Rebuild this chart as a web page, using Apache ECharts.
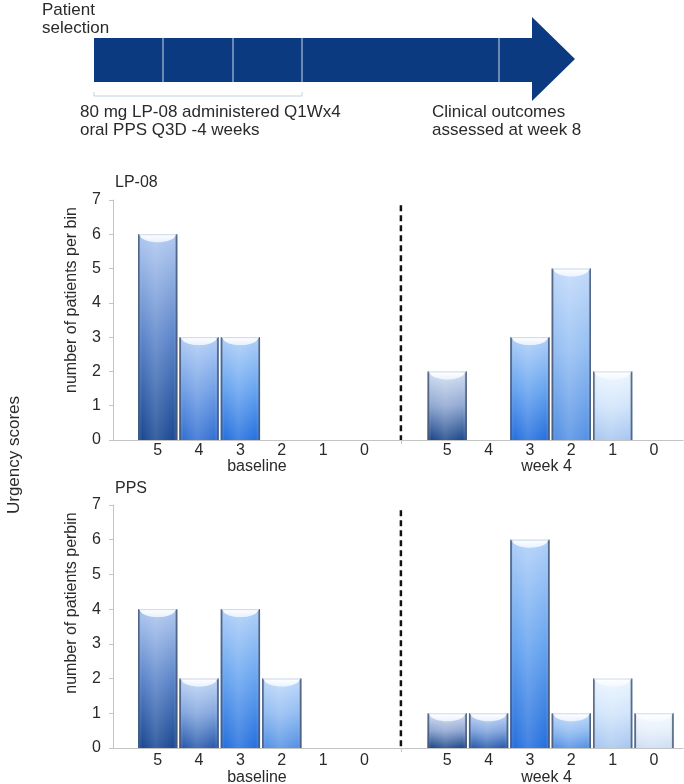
<!DOCTYPE html>
<html><head><meta charset="utf-8">
<script src="https://cdn.jsdelivr.net/npm/echarts@6/dist/echarts.min.js"></script>
<style>html,body{margin:0;padding:0;background:#fff}#c{width:684px;height:784px}</style>
</head><body><div id="c"></div>
<script>
// ---- data ----
const scores = ['5','4','3','2','1','0'];
const groupNames = ['baseline','week 4'];
const lp08Baseline = [6,3,3,0,0,0];
const lp08Week4 = [2,0,3,5,2,0];
const ppsBaseline = [4,2,4,2,0,0];
const ppsWeek4 = [1,1,6,1,2,1];
const yTicks = [0,1,2,3,4,5,6,7];
const panelTitles = ['LP-08','PPS'];
const yNames = ['number of patients per bin','number of patients perbin'];

// ---- styles (kept separate from data) ----
const shades = {
  dark:   ['#b0c9f0','#5d86cb','#1a4993'],
  slate:  ['#d4e0f3','#91a8d2','#1d488a'],
  mid:    ['#b4cff6','#74a1e6','#3370d2'],
  midDark:['#c4d8f6','#83a6de','#285aac'],
  bright: ['#b0d0f8','#68a5f0','#2670de'],
  light:  ['#c2dafa','#93bdf2','#5591e4'],
  pale:   ['#edf6ff','#d2e5fb','#a7c7f0'],
  palest: ['#f6faff','#e6f0fb','#cedef3']
};
const lp08BaselineShade = ['dark','mid','bright','light','light','light'];
const lp08Week4Shade = ['slate','mid','bright','light','pale','pale'];
const ppsBaselineShade = ['dark','midDark','bright','light','light','light'];
const ppsWeek4Shade = ['slate','midDark','bright','light','pale','palest'];

const FONT = 'Liberation Sans, Arial, sans-serif';
const TXT = '#2a2a2a';
const GAP = 7; // slot index where week-4 group starts
const labelPos = [];
scores.forEach((s,i)=>labelPos.push(i));
scores.forEach((s,i)=>labelPos.push(GAP+i));
function labelFor(v){
  const r = Math.round(v);
  if (r < 6) return scores[r];
  return scores[r-GAP];
}

function buildItems(base, week, baseShade, weekShade){
  const items = [];
  base.forEach((v,i)=>items.push({x:i, v:v, shade:baseShade[i]}));
  week.forEach((v,i)=>items.push({x:GAP+i, v:v, shade:weekShade[i]}));
  return items;
}
const panels = [
  buildItems(lp08Baseline, lp08Week4, lp08BaselineShade, lp08Week4Shade),
  buildItems(ppsBaseline, ppsWeek4, ppsBaselineShade, ppsWeek4Shade)
];

function makeRender(items){
  return function(params, api){
    const it = items[params.dataIndex];
    if (!it || it.v <= 0) return null;
    const p = api.coord([it.x, it.v]);
    const b = api.coord([it.x, 0]);
    const w = api.size([1,0])[0]*0.95;
    const x0 = p[0]-w/2, y0 = p[1], h = b[1]-p[1];
    const sh = shades[it.shade];
    const d = 8;
    const pts = [[x0, y0]];
    const N = 24;
    for (let i=0;i<=N;i++){
      const t = i/N;
      const xx = x0 + 1.5 + t*(w-3);
      const yy = y0 + d*Math.sqrt(Math.max(0,1-Math.pow(2*t-1,2)));
      pts.push([xx,yy]);
    }
    pts.push([x0+w, y0]);
    return {type:'group', children:[
      {type:'rect', shape:{x:x0,y:y0,width:w,height:h},
       style:{fill:{type:'linear',x:0,y:0,x2:0,y2:1,colorStops:[
         {offset:0,color:sh[0]},{offset:0.5,color:sh[1]},{offset:1,color:sh[2]}]}}},
      {type:'rect', shape:{x:x0,y:y0,width:w,height:h},
       style:{fill:{type:'linear',x:0,y:0,x2:1,y2:0,colorStops:[
         {offset:0,color:'rgba(30,50,90,0.35)'},{offset:0.1,color:'rgba(255,255,255,0)'},
         {offset:0.45,color:'rgba(255,255,255,0.14)'},{offset:0.9,color:'rgba(255,255,255,0)'},
         {offset:1,color:'rgba(30,50,90,0.35)'}]}}},
      {type:'line', shape:{x1:x0+0.8,y1:y0,x2:x0+0.8,y2:b[1]},
       style:{stroke:'rgba(70,90,125,0.85)',lineWidth:1.6}},
      {type:'line', shape:{x1:x0+w-0.8,y1:y0,x2:x0+w-0.8,y2:b[1]},
       style:{stroke:'rgba(70,90,125,0.85)',lineWidth:1.6}},
      {type:'polygon', shape:{points:pts},
       style:{fill:{type:'linear',x:0,y:0,x2:0,y2:1,colorStops:[
         {offset:0,color:'rgba(255,255,255,1)'},{offset:1,color:'rgba(246,250,255,0.8)'}]}}},
      {type:'line', shape:{x1:x0+1,y1:y0+0.5,x2:x0+w-1,y2:y0+0.5},
       style:{stroke:'rgba(205,218,236,1)',lineWidth:1}}
    ]};
  };
}

const grids = [
  {left:113, top:200, width:570, height:240, outerBoundsMode:'none', containLabel:false},
  {left:113, top:505, width:570, height:243, outerBoundsMode:'none', containLabel:false}
];
const XMIN = -1.08, XMAX = 12.7;
const sepTop = 6.85;
const sepX = 5.88;

const xAxes = [], yAxes = [], series = [];
grids.forEach((g,gi)=>{
  xAxes.push({type:'value', gridIndex:gi, min:XMIN, max:XMAX,
    axisLine:{show:true, onZero:false, lineStyle:{color:'#c4c4c4', width:1}},
    axisTick:{show:true, customValues:[sepX], length:4, lineStyle:{color:'#c4c4c4'}},
    splitLine:{show:false},
    axisLabel:{customValues:labelPos, formatter:labelFor, fontSize:16, color:TXT, fontFamily:FONT, margin: gi===0?3:5}
  });
  xAxes.push({type:'value', gridIndex:gi, min:XMIN, max:XMAX, position:'bottom',
    axisLine:{show:false, onZero:false}, axisTick:{show:false}, splitLine:{show:false},
    axisLabel:{customValues:[2.4, 9.4], formatter:(v)=> v<6?groupNames[0]:groupNames[1], fontSize:16, color:TXT, fontFamily:FONT, margin: gi===0?19:22}
  });
  yAxes.push({type:'value', gridIndex:gi, min:0, max:7, interval:1,
    axisLine:{show:true, onZero:false, lineStyle:{color:'#c4c4c4', width:1}},
    axisTick:{show:true, length:4, lineStyle:{color:'#c4c4c4'}},
    splitLine:{show:false},
    axisLabel:{fontSize:16, color:TXT, fontFamily:FONT, margin:12,
      customValues: yTicks}
  });
  const items = panels[gi];
  series.push({type:'custom', xAxisIndex:gi*2, yAxisIndex:gi,
    renderItem: makeRender(items),
    data: items.map(it=>[it.x, it.v]), silent:true, clip:false, z:2});
  series.push({type:'line', xAxisIndex:gi*2, yAxisIndex:gi, symbol:'none', silent:true,
    data:[[sepX, sepTop],[sepX, 0]],
    lineStyle:{color:'#111', width:2.5, type:[6,4]}, z:3});
});

const graphics = [
  // timeline arrow
  {type:'polygon', shape:{points:[[94,38],[532,38],[532,17],[575,59],[532,101],[532,82],[94,82]]},
   style:{fill:'#0b3a80'}},
  ...[163,233,302,499].map(x=>({type:'line', shape:{x1:x,y1:38,x2:x,y2:82},
     style:{stroke:'#8ea4c4', lineWidth:1.5}})),
  {type:'polyline', shape:{points:[[94,92],[94,96],[302,96],[302,92]]},
   style:{stroke:'#c3d0e0', lineWidth:1, fill:null}},
  {type:'text', x:42, y:1, style:{text:'Patient\nselection', font:'17px '+FONT, fill:TXT, lineHeight:18}},
  {type:'text', x:80, y:103, style:{text:'80 mg LP-08 administered Q1Wx4\noral PPS Q3D -4 weeks', font:'17px '+FONT, fill:TXT, lineHeight:18}},
  {type:'text', x:432, y:103, style:{text:'Clinical outcomes\nassessed at week 8', font:'17px '+FONT, fill:TXT, lineHeight:18}},
  // panel titles
  {type:'text', x:115, y:175, style:{text:panelTitles[0], font:'16px '+FONT, fill:TXT}},
  {type:'text', x:115, y:481, style:{text:panelTitles[1], font:'16px '+FONT, fill:TXT}},
  // y names
  {type:'text', x:72, y:300, rotation:Math.PI/2, style:{text:yNames[0], font:'16px '+FONT, fill:TXT, align:'center', verticalAlign:'middle'}},
  {type:'text', x:72, y:603, rotation:Math.PI/2, style:{text:yNames[1], font:'16px '+FONT, fill:TXT, align:'center', verticalAlign:'middle'}},
  {type:'text', x:14, y:455, rotation:Math.PI/2, style:{text:'Urgency scores', font:'17px '+FONT, fill:TXT, align:'center', verticalAlign:'middle'}}
];

const chart = echarts.init(document.getElementById('c'), null, {renderer:'canvas'});
chart.setOption({
  animation:false,
  backgroundColor:'#fff',
  grid: grids,
  xAxis: xAxes,
  yAxis: yAxes,
  series: series,
  graphic: graphics
});
</script></body></html>
